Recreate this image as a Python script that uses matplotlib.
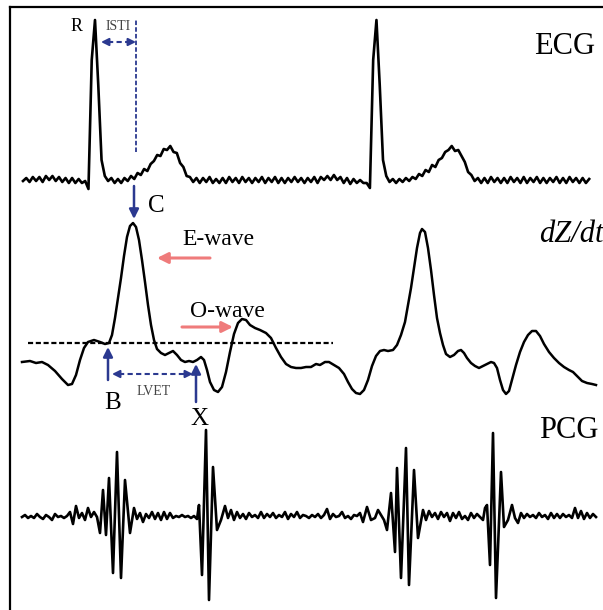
import numpy as np
import matplotlib
matplotlib.use("Agg")
import matplotlib.pyplot as plt

# ECG amplitude samples (uniform time step), R peaks at samples 22 and 110
ecg_v = [
    -1, 2, -2, 3, -1, 3, -2, 4, 0, 4, -1, 3, -2, 2, -3, 2, -3, 1, -3, -1,
    -9, 120, 160, 95, 20, 4,
    -1, 2, -3, 1, -3, 2, -1, 4, 1, 7, 5, 11, 9, 16, 19, 25, 24, 31, 30, 34,
    28, 27, 17, 13, 4, 3, -2,
    2, -3, 2, -2, 3, -3, 1, -3, 2, -3, 3, -2, 2, -3, 3, -2, 2, -3, 2, -2,
    3, -3, 2, -2, 3, -3, 2, -3, 2, -2, 3, -2, 2, -3, 2, -2, 3, -3, 3, 0,
    4, 0, 5, 0, 3, -3, 2, -4, 1, -3, 0, -3, -3,
    -8, 120, 160, 95, 20, 4,
    -2, 1, -3, 1, -2, 2, -1, 3, 1, 6, 4, 10, 8, 15, 13, 20, 22, 28, 30, 34,
    29, 30, 24, 18, 8, 5, -1,
    2, -3, 2, -3, 3, -2, 2, -3, 2, -3, 3, -2, 2, -3, 3, -3, 2, -2, 3, -3,
    2, -3, 2, -2, 3, -3, 2, -3, 3, -2, 2, -3, 2, -3, 1,
]
ecg_t0 = 23
ecg_dt = 288 / 88

# impedance cardiogram dZ/dt (time, amplitude relative to B-point level)
dzdt_t = [
    22, 30, 36, 42, 48, 55, 62, 68, 72, 76, 80, 84, 88, 94, 100, 105, 109, 112, 115, 118,
    121, 124, 127, 130, 133, 136, 139, 142, 145, 148, 151, 154, 157, 161, 165, 169, 173, 177, 181, 185,
    189, 193, 197, 201, 204, 207, 210, 214, 218, 222, 226, 230, 234, 238, 242, 246, 250, 255, 260, 266,
    271, 276, 281, 286, 291, 296, 301, 306, 311, 316, 320, 325, 329, 334, 339, 344, 348, 352, 356, 360,
    364, 368, 372, 376, 380, 384, 388, 393, 397, 401, 405, 408, 411, 414, 417, 420, 422, 425, 428, 431,
    434, 437, 440, 443, 446, 450, 454, 458, 461, 464, 467, 471, 475, 479, 483, 487, 491, 494, 497, 500,
    503, 506, 509, 512, 516, 520, 524, 528, 532, 536, 540, 544, 549, 554, 559, 564, 569, 573, 577, 582,
    587, 592, 596,
]
dzdt_v = [
    -19, -18, -20, -19, -22, -28, -36, -42, -41, -32, -17, -5, 1, 3, 1, -1, 0, 8, 25, 45,
    65, 87, 106, 117, 120, 116, 103, 83, 61, 38, 18, 3, -6, -10, -12, -10, -8, -12, -17, -19,
    -18, -19, -17, -14, -17, -27, -39, -47, -49, -44, -29, -9, 9, 20, 24, 23, 18, 15, 13, 10,
    5, -5, -14, -21, -24, -25, -25, -24, -24, -21, -22, -19, -19, -22, -25, -31, -39, -46, -50, -51,
    -47, -37, -23, -13, -8, -7, -8, -7, -2, 8, 21, 38, 55, 75, 95, 110, 114, 111, 95, 73,
    48, 25, 10, -2, -11, -14, -12, -8, -7, -10, -15, -20, -23, -25, -23, -21, -19, -20, -25, -37,
    -47, -51, -48, -37, -22, -9, 1, 8, 12, 12, 7, -1, -9, -15, -20, -24, -27, -29, -33, -38,
    -40, -41, -42,
]

# phonocardiogram (time, amplitude)
pcg_t = [
    22, 25, 28, 31, 34, 37, 40, 43, 46, 49, 52, 55, 58, 61, 64, 67, 70, 73, 76, 79,
    82, 85, 88, 91, 94, 97, 100, 103, 106, 109, 113, 117, 121, 125, 130, 134, 137, 140, 143, 146,
    149, 152, 155, 158, 161, 164, 167, 170, 173, 176, 179, 182, 185, 188, 191, 194, 197, 199, 202, 206,
    209, 213, 217, 221, 225, 228, 231, 234, 237, 240, 243, 246, 249, 252, 255, 258, 261, 264, 267, 270,
    273, 276, 279, 282, 285, 288, 291, 294, 297, 300, 303, 306, 309, 312, 315, 318, 321, 324, 327, 330,
    333, 336, 339, 342, 345, 348, 351, 354, 357, 360, 363, 367, 371, 375, 378, 381, 384, 387, 391, 395,
    397, 401, 406, 409, 414, 418, 423, 426, 429, 432, 435, 438, 441, 444, 447, 450, 453, 456, 459, 462,
    465, 468, 471, 474, 477, 480, 483, 485, 487, 490, 493, 496, 501, 504, 508, 512, 515, 518, 521, 524,
    527, 530, 533, 536, 539, 542, 545, 548, 551, 554, 557, 560, 563, 566, 569, 572, 575, 578, 581, 584,
    587, 590, 593, 596,
]
pcg_v = [
    -1, 1, -2, 0, -2, 2, -1, -3, 1, -1, -4, 2, -1, 0, -2, 0, 4, -8, 10, -2,
    3, -4, 8, -1, 4, -1, -17, 26, -19, 38, -57, 64, -62, 36, -17, 8, -3, 3, -6, 2,
    -2, 4, -3, 3, -4, 4, -3, 3, -2, 0, -1, 1, -1, 0, -2, 0, -3, 11, -59, 86,
    -84, 49, -14, -4, 10, -2, 6, -4, 4, -2, 2, -3, 3, -1, 1, -2, 4, -2, 2, -1,
    3, -2, 1, -1, 4, -3, 2, -1, 4, -2, 1, 0, -2, 1, -1, 2, -2, 1, 7, -3,
    2, -1, 0, 4, -2, 0, -3, 1, 0, 3, -6, 9, -4, -2, 6, 1, -4, -14, 23, -36,
    48, -62, 68, -69, 46, -22, 6, -4, 5, -1, 3, -3, 4, -1, 3, -5, 3, -2, 4, -3,
    0, -4, 3, -2, 2, -1, -4, 8, 11, -49, 83, -82, 44, -11, -4, 11, -2, -7, 3, -2,
    2, -1, 1, -2, 3, -1, 1, -3, 3, -2, 2, -2, 2, -1, 1, -2, 8, -2, 5, -3,
    3, -2, 2, -1,
]

NAVY = "#2b3990"
PINK = "#ef7b7b"
GREY = "#444444"
SERIF = ["Liberation Serif", "DejaVu Serif"]

ECG_BASE, DZ_BASE, PCG_BASE = 430, 267, 94

fig = plt.figure(figsize=(6.03, 6.10), dpi=100)
ax = fig.add_axes([10 / 603, 0, 593 / 603, 603 / 610])
ax.set_xlim(10, 603)
ax.set_ylim(0, 603)
ax.set_xticks([])
ax.set_yticks([])
for side in ("right", "bottom"):
    ax.spines[side].set_visible(False)
for side in ("left", "top"):
    ax.spines[side].set_linewidth(1.6)

ecg_t = ecg_t0 + ecg_dt * np.arange(len(ecg_v))
ax.plot(ecg_t, ECG_BASE + np.array(ecg_v), color="black", lw=1.9)
ax.plot(dzdt_t, DZ_BASE + np.array(dzdt_v), color="black", lw=1.8)
ax.plot(pcg_t, PCG_BASE + np.array(pcg_v), color="black", lw=1.9)

# reference level through B
ax.plot([28, 333], [DZ_BASE, DZ_BASE], color="black", lw=1.6, dashes=(2.3, 1.2))

# trace labels
ax.text(534, 556, "ECG", family=SERIF, fontsize=22, va="baseline")
ax.text(539, 368, "dZ/dt", family=SERIF, fontsize=22, style="italic", va="baseline",
        clip_on=False)
ax.text(539, 172, "PCG", family=SERIF, fontsize=22, va="baseline")


def arrow(x0, y0, x1, y1, color=NAVY, lw=1.8, scale=14):
    ax.annotate("", xy=(x1, y1), xytext=(x0, y0),
                arrowprops=dict(arrowstyle="-|>", color=color, lw=lw,
                                mutation_scale=scale, shrinkA=0, shrinkB=0))


def dashed_span(x0, x1, y):
    ax.plot([x0 + 7, x1 - 7], [y, y], color=NAVY, lw=1.5, dashes=(2.5, 1.6))
    arrow(x0 + 9, y, x0, y, lw=1.5, scale=11)
    arrow(x1 - 9, y, x1, y, lw=1.5, scale=11)


# ISTI
ax.text(71, 579, "R", family=SERIF, fontsize=13, va="baseline")
ax.plot([136, 136], [458, 590], color=NAVY, lw=1.3, dashes=(2.5, 1.2))
dashed_span(101, 136, 568)
ax.text(106, 580, "ISTI", family=SERIF, fontsize=10, color=GREY, va="baseline")

# C, B, X points
arrow(134, 424, 134, 391)
ax.text(148, 398, "C", family=SERIF, fontsize=18, va="baseline")
arrow(108, 230, 108, 263)
ax.text(104, 201, "B", family=SERIF, fontsize=18, va="baseline")
arrow(196, 208, 196, 246)
ax.text(190, 185, "X", family=SERIF, fontsize=18, va="baseline")
dashed_span(112, 193, 236)
ax.text(137, 215, "LVET", family=SERIF, fontsize=10, color=GREY, va="baseline")

# E-wave / O-wave
ax.text(182, 365, "E-wave", family=SERIF, fontsize=17, va="baseline")
arrow(210, 352, 157, 352, color=PINK, lw=2.2, scale=16)
ax.text(190, 293, "O-wave", family=SERIF, fontsize=17, va="baseline")
arrow(182, 283, 233, 283, color=PINK, lw=2.2, scale=16)

fig.savefig("out.png", dpi=100)
